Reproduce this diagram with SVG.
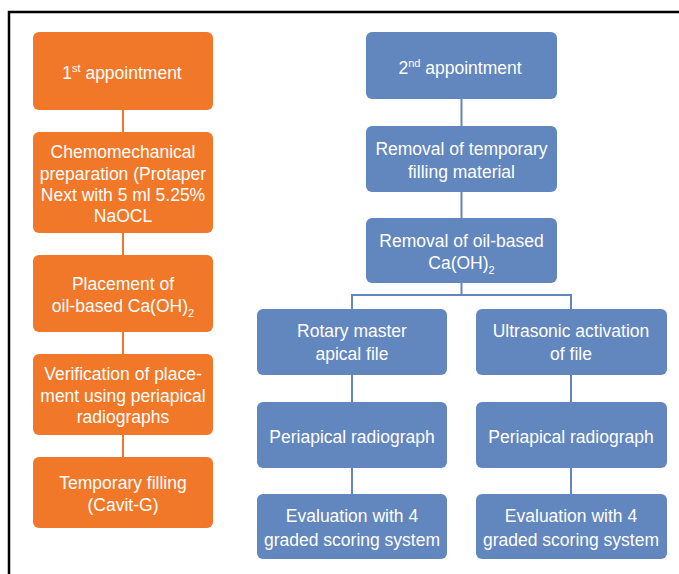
<svg xmlns="http://www.w3.org/2000/svg" width="679" height="574" viewBox="0 0 679 574">
<style>
.o{fill:#F17729}
.b{fill:#6286BE}
text{font-family:"Liberation Sans",Arial,sans-serif;font-size:17.5px;fill:#fff;text-anchor:middle}
.sm{font-size:11px}
.co{stroke:#F17729;stroke-width:2;fill:none}
.cb{stroke:#6286BE;stroke-width:2;fill:none}
</style>
<rect width="679" height="574" fill="#fff"/>
<path d="M9,574 V12 H679" fill="none" stroke="#000" stroke-width="2.5"/>
<g id="connectors">
<path class="co" d="M123,110V132M123,233V255M123,332V354M123,435V457"/>
<path class="cb" d="M461.5,99V126M461.5,192V218M461.5,283V295M352,309V295H571V309M352,375V402M571,375V402M352,468V494M571,468V494"/>
</g>
<g id="n1"><rect class="o" x="33" y="32" width="180" height="78" rx="6"/><text x="122" y="79">1<tspan class="sm" dy="-7">st</tspan><tspan dy="7"> appointment</tspan></text></g>
<g id="n2"><rect class="o" x="33" y="132" width="180" height="101" rx="6"/><text x="123" y="158">Chemomechanical</text><text x="123" y="179.5">preparation (Protaper</text><text x="123" y="201">Next with 5 ml 5.25%</text><text x="123" y="222">NaOCL</text></g>
<g id="n3"><rect class="o" x="33" y="255" width="180" height="77" rx="6"/><text x="123" y="290">Placement of</text><text x="123" y="312">oil-based Ca(OH)<tspan class="sm" dy="5">2</tspan></text></g>
<g id="n4"><rect class="o" x="33" y="354" width="180" height="81" rx="6"/><text x="123" y="380">Verification of place-</text><text x="123" y="402">ment using periapical</text><text x="123" y="423">radiographs</text></g>
<g id="n5"><rect class="o" x="33" y="457" width="180" height="71" rx="6"/><text x="123" y="489">Temporary filling</text><text x="123" y="511">(Cavit-G)</text></g>
<g id="m1"><rect class="b" x="366" y="32" width="191" height="67" rx="6"/><text x="460" y="74">2<tspan class="sm" dy="-7">nd</tspan><tspan dy="7"> appointment</tspan></text></g>
<g id="m2"><rect class="b" x="366" y="126" width="191" height="66" rx="6"/><text x="461.5" y="155">Removal of temporary</text><text x="461.5" y="178">filling material</text></g>
<g id="m3"><rect class="b" x="366" y="218" width="191" height="65" rx="6"/><text x="461.5" y="247">Removal of oil-based</text><text x="461.5" y="269">Ca(OH)<tspan class="sm" dy="5">2</tspan></text></g>
<g id="l1"><rect class="b" x="257" y="309" width="190" height="66" rx="6"/><text x="352" y="337">Rotary master</text><text x="352" y="360">apical file</text></g>
<g id="r1"><rect class="b" x="476" y="309" width="191" height="66" rx="6"/><text x="571" y="337">Ultrasonic activation</text><text x="571" y="360">of file</text></g>
<g id="l2"><rect class="b" x="257" y="402" width="190" height="66" rx="6"/><text x="352" y="443">Periapical radiograph</text></g>
<g id="r2"><rect class="b" x="476" y="402" width="191" height="66" rx="6"/><text x="571" y="443">Periapical radiograph</text></g>
<g id="l3"><rect class="b" x="257" y="494" width="190" height="65" rx="6"/><text x="352" y="522">Evaluation with 4</text><text x="352" y="546">graded scoring system</text></g>
<g id="r3"><rect class="b" x="476" y="494" width="191" height="65" rx="6"/><text x="571" y="522">Evaluation with 4</text><text x="571" y="546">graded scoring system</text></g>
</svg>
